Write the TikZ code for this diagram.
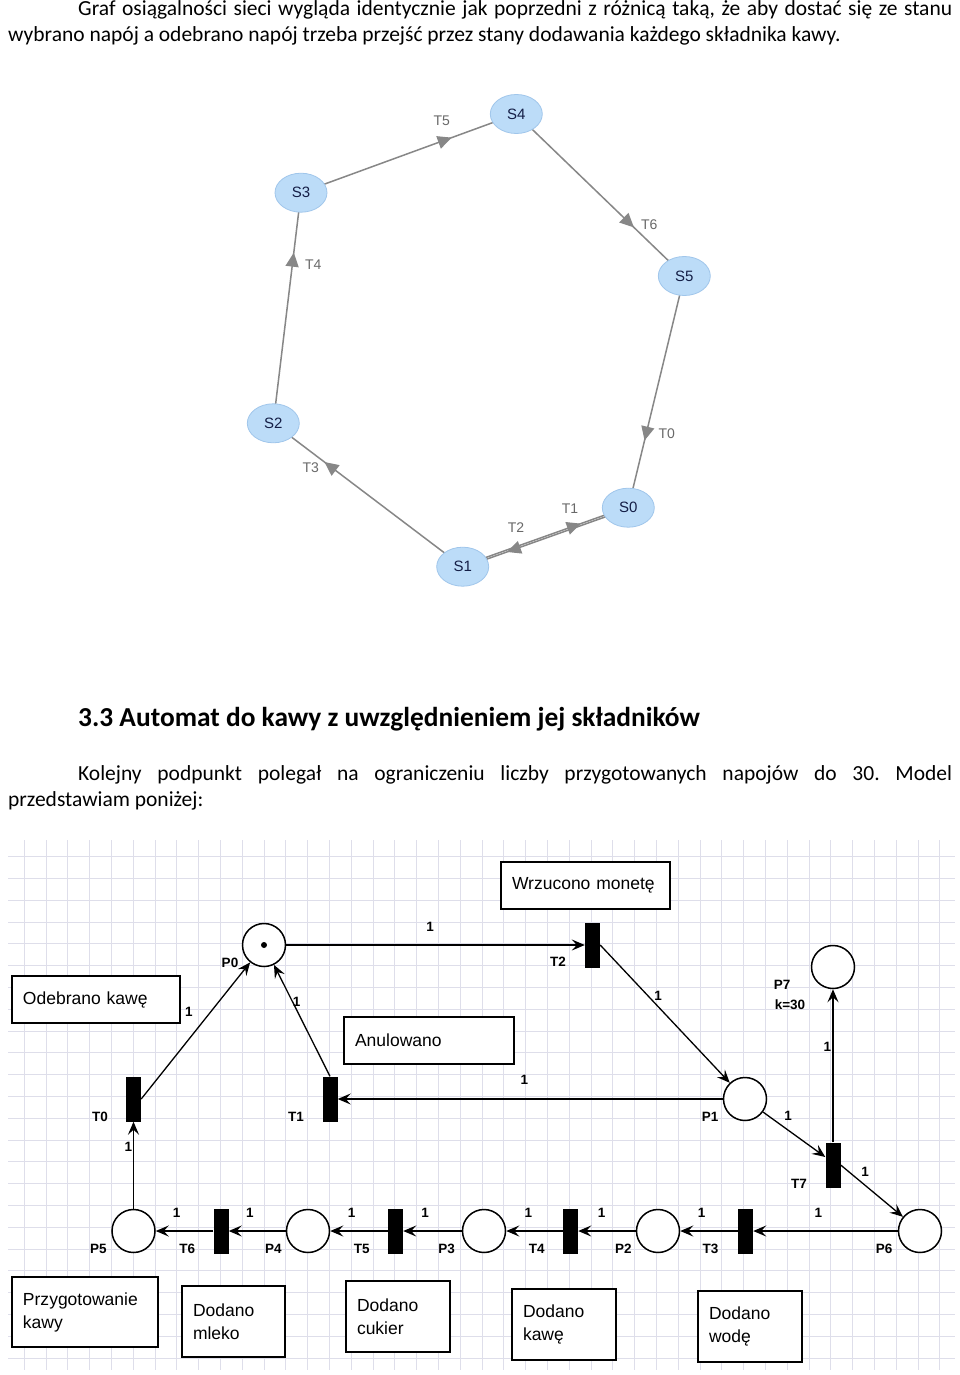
\documentclass[tikz,border=0pt]{standalone}
\usepackage{fontspec}
\setmainfont{Carlito}
\newfontfamily\arialf{Liberation Sans}
\usetikzlibrary{arrows.meta,decorations.markings,calc,shapes.geometric}
\pgfdeclarelayer{gridlayer}
\pgfdeclarelayer{background}
\pgfsetlayers{gridlayer,background,main}
\definecolor{stfill}{RGB}{188,220,248}
\definecolor{stdraw}{RGB}{160,198,235}
\definecolor{edgegray}{RGB}{135,135,135}
\definecolor{labgray}{RGB}{105,105,105}
\definecolor{stext}{RGB}{20,30,70}
\definecolor{gridc}{RGB}{222,222,234}
\frenchspacing
\tikzset{
  body/.style={anchor=base west, inner sep=0, font=\fontsize{21.5}{26}\selectfont},
  state/.style={ellipse, fill=stfill, draw=stdraw, line width=0.8pt, minimum width=52pt, minimum height=39pt, inner sep=0, text=stext, font=\arialf\fontsize{15}{15}\selectfont},
  glab/.style={inner sep=0, text=labgray, font=\arialf\fontsize{14}{14}\selectfont},
  gedge/.style={color=edgegray, line width=1.5pt, postaction={decorate},
    decoration={markings, mark=at position #1 with {\arrow{Triangle[length=14pt,width=13pt]}}}},
  place/.style={circle, draw, line width=1.5pt, minimum size=43pt, inner sep=0},
  trans/.style={rectangle, fill=black, minimum width=15pt, minimum height=45pt, inner sep=0},
  parc/.style={draw, line width=1.3pt, -{Stealth[length=13pt,width=11pt,inset=5pt]}},
  plab/.style={inner sep=0, font=\arialf\bfseries\fontsize{13.5}{14}\selectfont},
  pbox/.style={draw, line width=1.3pt, align=left, inner xsep=11pt, inner ysep=0, font=\arialf\fontsize{17.5}{23}\selectfont},
}
\begin{document}
\begin{tikzpicture}[x=1pt,y=-1pt]
\useasboundingbox (0,0) rectangle (960,1375);

% ---------- text ----------
\node[body] (l1) at (78,16) {\makebox[874pt][s]{Graf osiągalności sieci wygląda identycznie jak poprzedni z różnicą taką, że aby dostać się ze stanu}};
\node[body] (l2) at (8,42) {wybrano napój a odebrano napój trzeba przejść przez stany dodawania każdego składnika kawy.};
\node[anchor=base west, inner sep=0, font=\bfseries\fontsize{27.4}{30}\selectfont] (head) at (78,726) {3.3 Automat do kawy z uwzględnieniem jej składników};
\node[body] (p1) at (78,780) {\makebox[874pt][s]{Kolejny podpunkt polegał na ograniczeniu liczby przygotowanych napojów do 30. Model}};
\node[body] (p2) at (8,806) {przedstawiam poniżej:};

% ---------- reachability graph ----------
\node[state] (S4) at (516.3,114) {S4};
\node[state] (S3) at (301,192.7) {S3};
\node[state] (S5) at (684.3,276) {S5};
\node[state] (S2) at (273.3,423.3) {S2};
\node[state] (S0) at (628.3,507.7) {S0};
\node[state] (S1) at (462.7,566.7) {S1};

\begin{pgfonlayer}{background}
\draw[gedge=0.70] (S3.center) -- (S4.center);
\draw[gedge=0.70] (S4.center) -- (S5.center);
\draw[gedge=0.71] (S5.center) -- (S0.center);
\draw[gedge=0.735] ($(S0.center)+(0.3,0.9)$) -- ($(S1.center)+(0.3,0.9)$);
\draw[gedge=0.715] ($(S1.center)+(-0.3,-0.9)$) -- ($(S0.center)+(-0.3,-0.9)$);
\draw[gedge=0.73] (S1.center) -- (S2.center);
\draw[gedge=0.74] (S2.center) -- (S3.center);
\end{pgfonlayer}

\node[glab] (gT5) at (441.7,120.7) {T5};
\node[glab] (gT6) at (649.3,225) {T6};
\node[glab] (gT4) at (313.3,265) {T4};
\node[glab] (gT0) at (666.7,434) {T0};
\node[glab] (gT1) at (570,508.3) {T1};
\node[glab] (gT2) at (516,527.3) {T2};
\node[glab] (gT3) at (310.7,467.3) {T3};

% ---------- grid ----------
\begin{pgfonlayer}{gridlayer}
\fill[white] (0,0) rectangle (960,1375);
\begin{scope}
\clip (8,840) rectangle (955,1370);
\foreach \i in {0,...,44} \draw[gridc, line width=1pt] ({2.5+21.8*\i},840) -- ({2.5+21.8*\i},1370);
\foreach \j in {-1,...,23} \draw[gridc, line width=1pt] (8,{856.7+21.8*\j}) -- (955,{856.7+21.8*\j});
\end{scope}
\end{pgfonlayer}

% ---------- Petri net ----------
\node[place, fill=white] (P0) at (264,945) {};
\node[circle, fill=black, inner sep=0, minimum size=6pt] (tok) at (P0) {};
\node[trans] (T2) at (592.5,945) {};
\node[place, fill=white] (P1) at (745,1099) {};
\node[place, fill=white] (P7) at (833,967) {};
\node[trans] (T7) at (833,1165) {};
\node[place, fill=white] (P6) at (920,1231) {};
\node[trans] (T3) at (745.5,1231) {};
\node[place, fill=white] (P2) at (658,1231) {};
\node[trans] (T4) at (570.5,1231) {};
\node[place, fill=white] (P3) at (484,1231) {};
\node[trans] (T5) at (395.5,1231) {};
\node[place, fill=white] (P4) at (308,1231) {};
\node[trans] (T6) at (221,1231) {};
\node[place, fill=white] (P5) at (133.5,1231) {};
\node[trans] (T0) at (133.5,1099) {};
\node[trans] (T1) at (330,1099) {};

\draw[parc] (P0.east) -- (T2.west);
\draw[parc] (T2.east) -- (P1);
\draw[parc] (T0.east) -- (P0);
\draw[parc] (T1.north) -- (P0);
\draw[parc] (P1.west) -- (T1.east);
\draw[parc] (P1) -- ($(T7.west)+(0,-8)$);
\draw[parc] (T7.east) -- (P6);
\draw[parc] (T7.north) -- (P7.south);
\draw[parc] (P5.north) -- (T0.south);
\draw[parc] (P6.west) -- (T3.east);
\draw[parc] (T3.west) -- (P2.east);
\draw[parc] (P2.west) -- (T4.east);
\draw[parc] (T4.west) -- (P3.east);
\draw[parc] (P3.west) -- (T5.east);
\draw[parc] (T5.west) -- (P4.east);
\draw[parc] (P4.west) -- (T6.east);
\draw[parc] (T6.west) -- (P5.east);

% labels
\node[plab] (lP0) at (230,963) {P0};
\node[plab] (lT0) at (100,1117) {T0};
\node[plab] (lT1) at (296,1117) {T1};
\node[plab] (lT2) at (558,962) {T2};
\node[plab] (lP1) at (710,1117) {P1};
\node[plab] (lP7) at (782,985) {P7};
\node[plab] (lk) at (790,1005) {k=30};
\node[plab] (lT7) at (799,1184) {T7};
\node[plab] (lP5) at (98.3,1249) {P5};
\node[plab] (lT6) at (187.3,1249) {T6};
\node[plab] (lP4) at (273.3,1249) {P4};
\node[plab] (lT5) at (361.7,1249) {T5};
\node[plab] (lP3) at (446.7,1249) {P3};
\node[plab] (lT4) at (536.7,1249) {T4};
\node[plab] (lP2) at (623.3,1249) {P2};
\node[plab] (lT3) at (710.5,1249) {T3};
\node[plab] (lP6) at (884,1249) {P6};

\node[plab] (w1) at (430,926.7) {1};
\node[plab] (w2) at (658,995.7) {1};
\node[plab] (w3) at (189,1011.7) {1};
\node[plab] (w4) at (296.7,1001.7) {1};
\node[plab] (w5) at (524.3,1080) {1};
\node[plab] (w6) at (827.3,1046.7) {1};
\node[plab] (w7) at (788,1115.7) {1};
\node[plab] (w8) at (865,1171.7) {1};
\node[plab] (w9) at (128.3,1146.7) {1};
\node[plab] (w10) at (176.7,1212.5) {1};
\node[plab] (w11) at (250,1212.5) {1};
\node[plab] (w12) at (351.7,1212.5) {1};
\node[plab] (w13) at (425,1212.5) {1};
\node[plab] (w14) at (528.3,1212.5) {1};
\node[plab] (w15) at (601.7,1212.5) {1};
\node[plab] (w16) at (701.7,1212.5) {1};
\node[plab] (w17) at (818.3,1212.5) {1};

% boxes
\node[pbox, fill=white, minimum width=169pt, minimum height=47pt, text width=147pt] (bWrz) at (585.5,885.5) {Wrzucono monetę};
\node[pbox, fill=white, minimum width=168pt, minimum height=47pt, text width=146pt] (bOde) at (96,999.5) {Odebrano kawę};
\node[pbox, fill=white, minimum width=170pt, minimum height=47pt, text width=148pt] (bAnu) at (429,1040.5) {Anulowano};
\node[pbox, fill=white, minimum width=146pt, minimum height=70pt, text width=124pt] (bPrz) at (85,1312) {Przygotowanie\\kawy};
\node[pbox, fill=white, minimum width=103pt, minimum height=71pt, text width=81pt] (bMle) at (233.5,1321.5) {Dodano\\mleko};
\node[pbox, fill=white, minimum width=104pt, minimum height=71pt, text width=82pt] (bCuk) at (398,1316.5) {Dodano\\cukier};
\node[pbox, fill=white, minimum width=104pt, minimum height=71pt, text width=82pt] (bKaw) at (564,1324.5) {Dodano\\kawę};
\node[pbox, fill=white, minimum width=104pt, minimum height=71pt, text width=82pt] (bWod) at (750,1326.5) {Dodano\\wodę};
\end{tikzpicture}
\end{document}
